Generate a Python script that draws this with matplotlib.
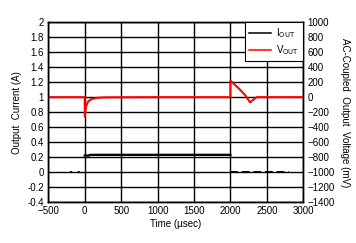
"""Load-step transient: output current and AC-coupled output voltage."""
import matplotlib
matplotlib.use("Agg")
import matplotlib.pyplot as plt

# output current (A): loaded interval, and the no-load stretches around it
t_iout = [0, 60, 70, 2000]
iout = [0.22, 0.22, 0.23, 0.23]
t_idle_pre = [-200, 0]
t_idle_post = [2000, 2800]
i_idle = [0.0, 0.0]

# AC-coupled output voltage (mV)
t_vout = [-500, 0, 1, 10, 20, 35, 50, 75, 100, 150, 200, 300, 400, 600,
          1000, 1999, 2000, 2100, 2200, 2270, 2320, 2360, 3000]
vout = [0, 0, -260, -170, -120, -80, -55, -35, -25, -12, -6, -3, -2, -1,
        0, 0, 220, 130, 30, -70, -30, 0, 0]

xticks = [-500, 0, 500, 1000, 1500, 2000, 2500, 3000]
yticks_left = [-0.4, -0.2, 0, 0.2, 0.4, 0.6, 0.8, 1, 1.2, 1.4, 1.6, 1.8, 2]
yticks_right = list(range(-1400, 1001, 200))

plt.rcParams["font.family"] = ["Liberation Sans", "DejaVu Sans"]
plt.rcParams["font.size"] = 7

fig, ax = plt.subplots(figsize=(3.56, 2.43), dpi=100)
fig.subplots_adjust(left=48.3 / 356, right=303.3 / 356,
                    top=1 - 22.3 / 243, bottom=1 - 202 / 243)
ax2 = ax.twinx()

ax.plot(t_iout, iout, color="black", lw=1.6, label=r"I$_{\rm OUT}$")
ax.plot(t_idle_pre, i_idle, color="black", lw=1.4, ls=(0, (1, 3)))
ax.plot(t_idle_post, i_idle, color="black", lw=1.4, ls=(0, (4, 2)))
ax2.plot(t_vout, vout, color="red", lw=1.5, label=r"V$_{\rm OUT}$")

ax.set_xlim(-500, 3000)
ax.set_ylim(-0.4, 2)
ax2.set_ylim(-1400, 1000)
ax.set_xticks(xticks)
ax.set_yticks(yticks_left)
ax.set_yticklabels([f"{v:g}" for v in yticks_left])
ax2.set_yticks(yticks_right)
ax.grid(True, color="black", lw=1.0)
ax.set_axisbelow(True)
for a in (ax, ax2):
    a.tick_params(length=0, pad=3, labelsize=7)
    for s in a.spines.values():
        s.set_linewidth(1.0)

ax.set_xlabel("Time (\u00b5sec)", fontsize=7, labelpad=2)
ax.set_ylabel("Output  Current (A)", fontsize=7, labelpad=4)
ax2.set_ylabel("AC-Coupled  Output  Voltage (mV)", fontsize=7,
               rotation=270, labelpad=11)

h1, l1 = ax.get_legend_handles_labels()
h2, l2 = ax2.get_legend_handles_labels()
leg = ax2.legend(h1 + h2, l1 + l2, loc="upper right", borderaxespad=0,
                 fancybox=False, edgecolor="black", framealpha=1,
                 fontsize=7, handlelength=2.2, handletextpad=0.6,
                 labelspacing=0.3)
leg.get_frame().set_linewidth(0.8)
for line in leg.get_lines():
    line.set_linewidth(1.1)

fig.savefig("out.png", dpi=100)
